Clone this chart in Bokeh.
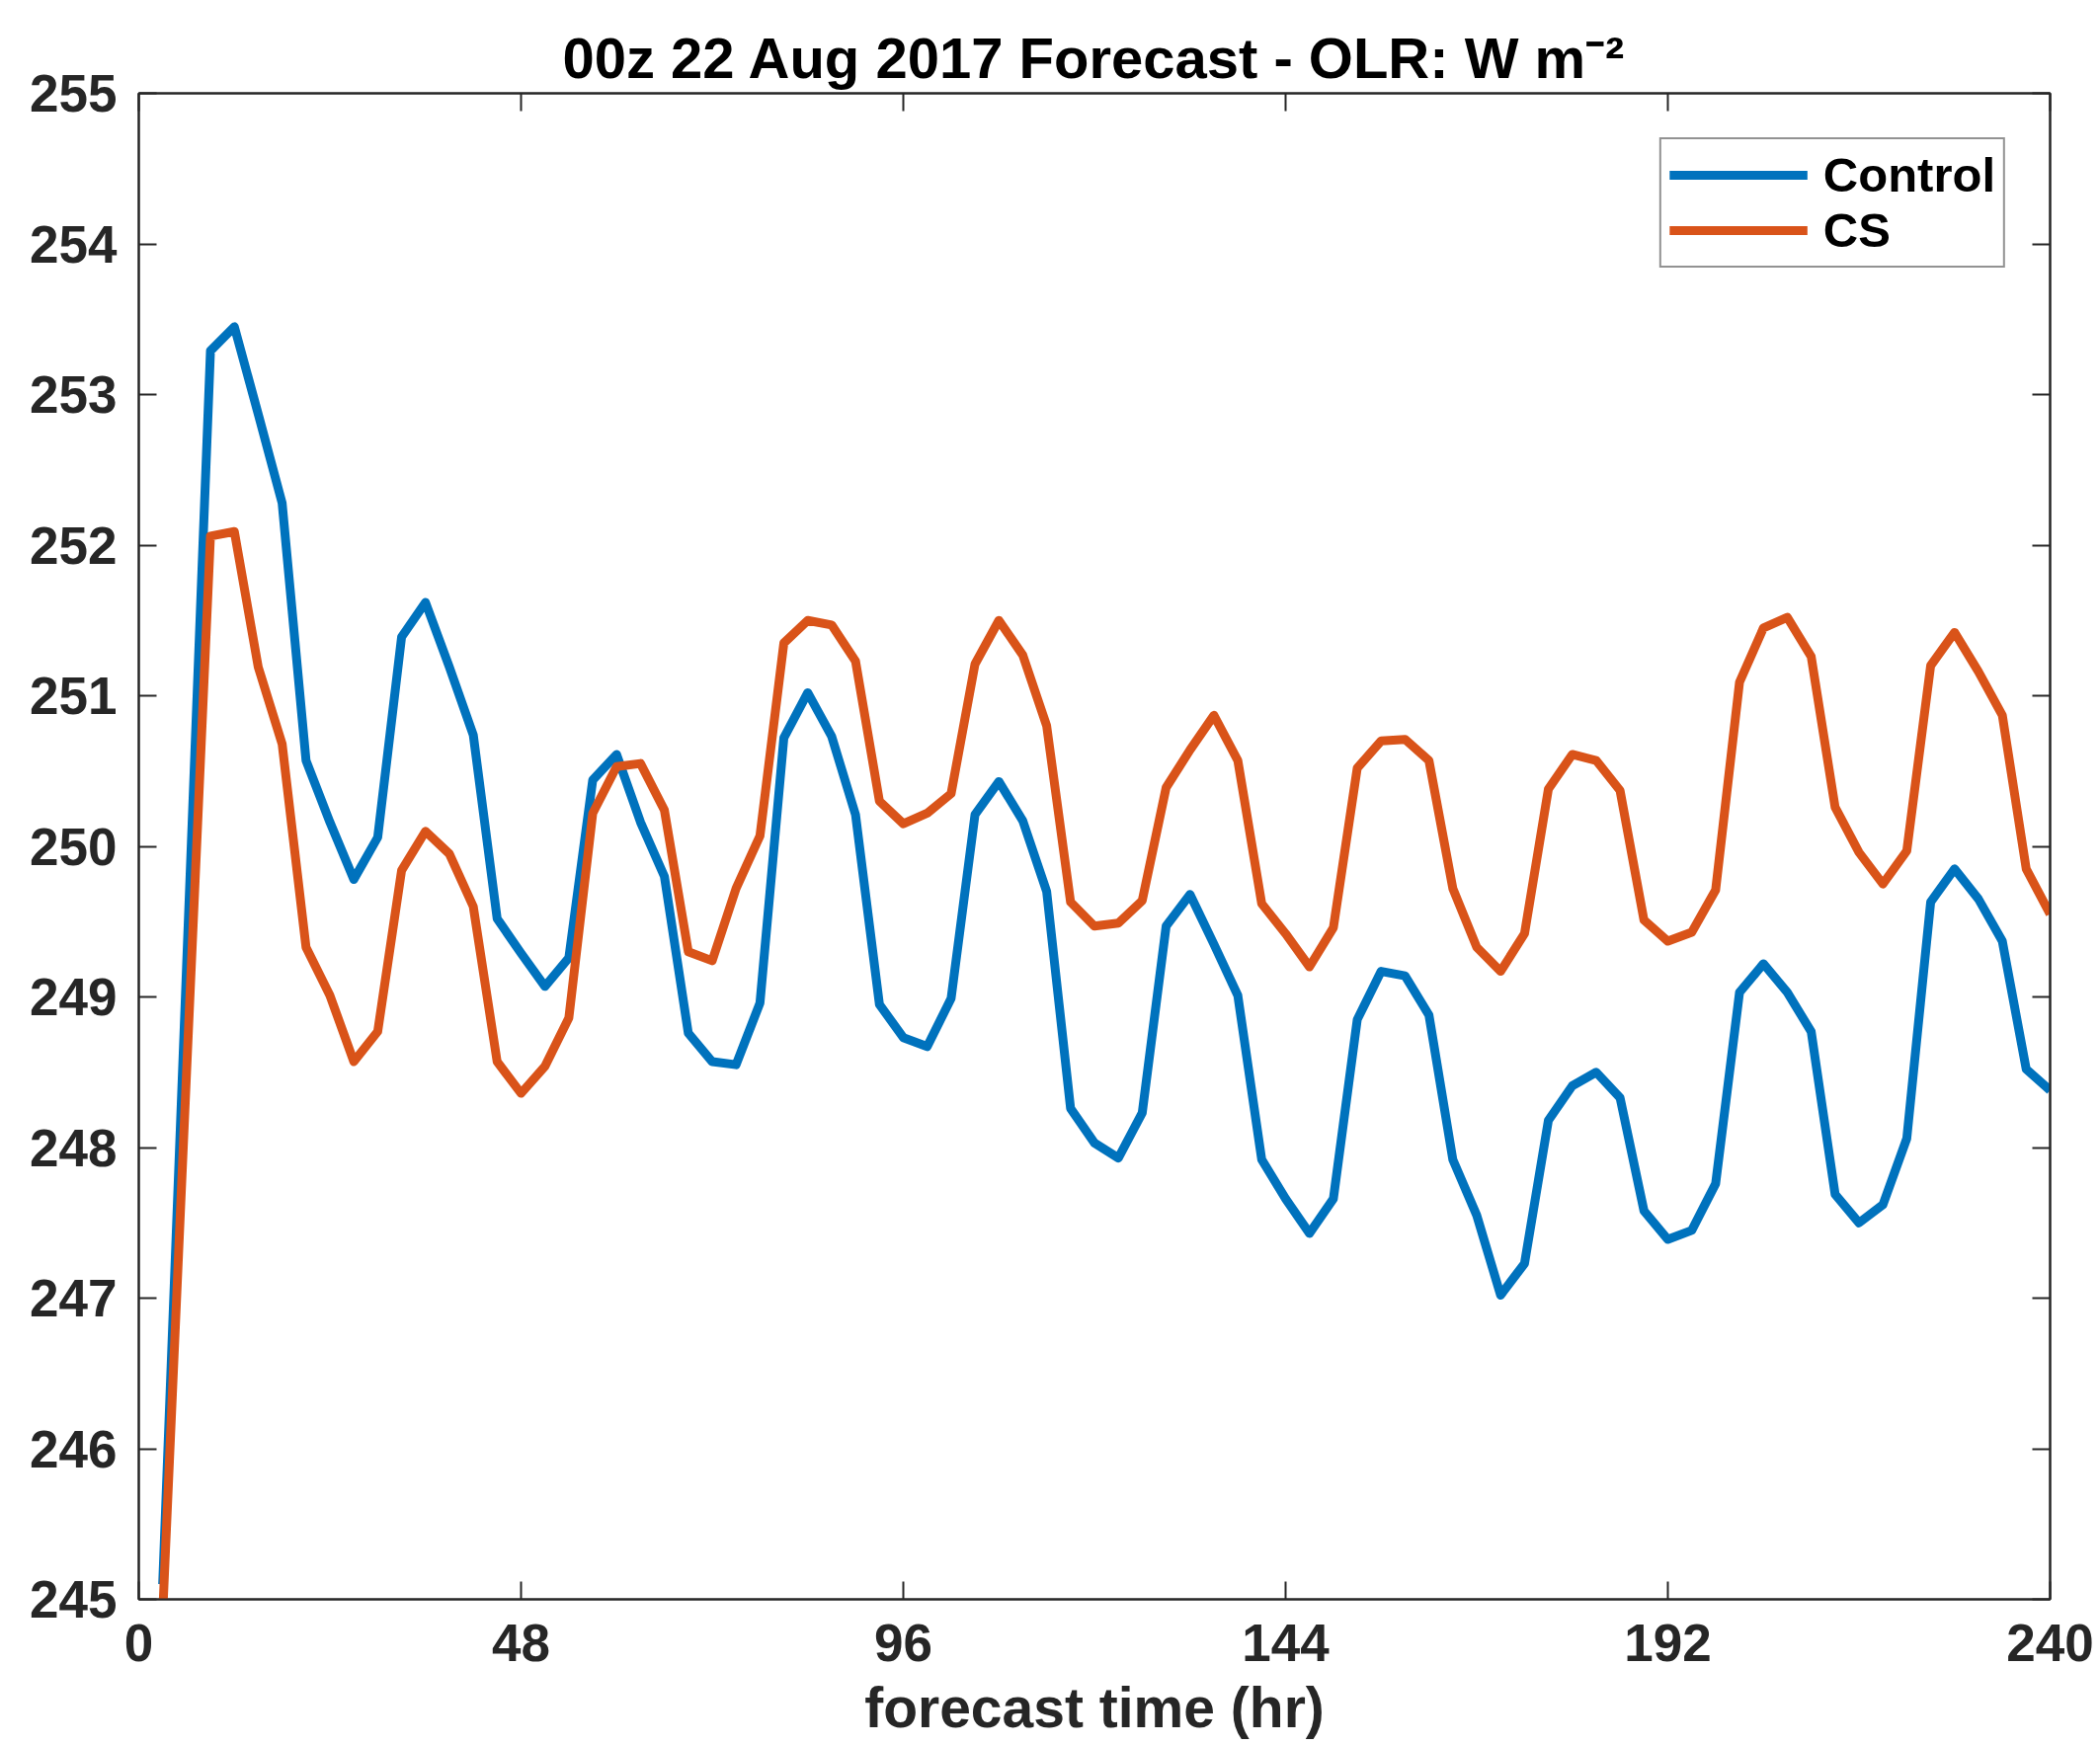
from bokeh.plotting import figure
from bokeh.models import Range1d, FixedTicker, LinearAxis
from bokeh.embed import file_html
from bokeh.resources import INLINE

# ---- data ----
hours = [3, 6, 9, 12, 15, 18, 21, 24, 27, 30, 33, 36, 39, 42, 45, 48, 51, 54, 57, 60,
         63, 66, 69, 72, 75, 78, 81, 84, 87, 90, 93, 96, 99, 102, 105, 108, 111, 114, 117, 120,
         123, 126, 129, 132, 135, 138, 141, 144, 147, 150, 153, 156, 159, 162, 165, 168, 171, 174, 177, 180,
         183, 186, 189, 192, 195, 198, 201, 204, 207, 210, 213, 216, 219, 222, 225, 228, 231, 234, 237, 240]

control = [245.10, 249.20, 253.29, 253.45, 252.87, 252.28, 250.57, 250.16, 249.78, 250.06,
           251.39, 251.62, 251.19, 250.74, 249.52, 249.29, 249.07, 249.26, 250.44, 250.61,
           250.16, 249.80, 248.76, 248.57, 248.55, 248.96, 250.72, 251.02, 250.73, 250.21,
           248.95, 248.73, 248.67, 248.99, 250.21, 250.43, 250.17, 249.70, 248.26, 248.03,
           247.93, 248.23, 249.47, 249.68, 249.35, 249.01, 247.92, 247.66, 247.43, 247.66,
           248.85, 249.17, 249.14, 248.88, 247.92, 247.55, 247.02, 247.23, 248.18, 248.41,
           248.50, 248.33, 247.58, 247.39, 247.45, 247.76, 249.03, 249.22, 249.03, 248.77,
           247.69, 247.50, 247.62, 248.06, 249.63, 249.85, 249.65, 249.37, 248.52, 248.38]

cs = [244.90, 248.50, 252.06, 252.09, 251.19, 250.68, 249.33, 249.01, 248.57, 248.77,
      249.84, 250.10, 249.95, 249.60, 248.57, 248.36, 248.54, 248.86, 250.22, 250.53,
      250.55, 250.24, 249.30, 249.24, 249.72, 250.07, 251.35, 251.50, 251.47, 251.23,
      250.30, 250.15, 250.22, 250.35, 251.21, 251.50, 251.27, 250.80, 249.63, 249.47,
      249.49, 249.64, 250.39, 250.64, 250.87, 250.57, 249.62, 249.42, 249.20, 249.46,
      250.52, 250.70, 250.71, 250.57, 249.72, 249.33, 249.17, 249.42, 250.38, 250.61,
      250.57, 250.37, 249.51, 249.37, 249.43, 249.71, 251.09, 251.45, 251.52, 251.26,
      250.26, 249.96, 249.75, 249.97, 251.20, 251.42, 251.16, 250.87, 249.85, 249.55]

x_ticks = [0, 48, 96, 144, 192, 240]
y_ticks = [245, 246, 247, 248, 249, 250, 251, 252, 253, 254, 255]

title_text = "00z 22 Aug 2017 Forecast - OLR: W m\u207b\u00b2"
x_label = "forecast time (hr)"

FONT = "Liberation Sans"
AX = "#262626"

p = figure(width=2126, height=1767, output_backend="svg", toolbar_location=None,
           x_range=Range1d(0, 240), y_range=Range1d(245, 255),
           min_border_left=140, min_border_right=51, min_border_top=94, min_border_bottom=148,
           x_axis_location=None, y_axis_location=None)
p.grid.visible = False
p.outline_line_color = AX
p.outline_line_width = 2
p.background_fill_color = "white"
p.border_fill_color = "white"

p.title.text = title_text
p.title.align = "center"
p.title.text_font = FONT
p.title.text_font_style = "bold"
p.title.text_font_size = "58px"
p.title.text_color = "black"
p.title.standoff = 8

def style_axis(ax, ticks, show_labels):
    ax.ticker = FixedTicker(ticks=ticks)
    ax.major_tick_in = 18
    ax.major_tick_out = 0
    ax.minor_tick_in = 0
    ax.minor_tick_out = 0
    ax.major_tick_line_color = AX
    ax.major_tick_line_width = 2
    ax.axis_line_color = AX
    ax.axis_line_width = 2
    if show_labels:
        ax.major_label_text_font = FONT
        ax.major_label_text_font_style = "bold"
        ax.major_label_text_font_size = "53px"
        ax.major_label_text_color = AX
    else:
        ax.major_label_overrides = {t: "" for t in ticks}
        ax.major_label_text_font_size = "1px"
        ax.major_label_standoff = 0

xb = LinearAxis()
style_axis(xb, x_ticks, True)
xb.major_label_standoff = 25
xb.axis_label = x_label
xb.axis_label_text_font = FONT
xb.axis_label_text_font_style = "bold"
xb.axis_label_text_font_size = "57px"
xb.axis_label_text_color = AX
xb.axis_label_standoff = 12
p.add_layout(xb, "below")

yl = LinearAxis()
style_axis(yl, y_ticks, True)
yl.major_label_standoff = 22
p.add_layout(yl, "left")

xt = LinearAxis()
style_axis(xt, x_ticks, False)
p.add_layout(xt, "above")

yr = LinearAxis()
style_axis(yr, y_ticks, False)
p.add_layout(yr, "right")

p.line(hours, control, line_color="#0072BD", line_width=9, line_join="round",
       legend_label="Control")
p.line(hours, cs, line_color="#D95319", line_width=9, line_join="round",
       legend_label="CS")

lg = p.legend[0]
lg.location = "top_right"
lg.margin = 45
lg.padding = 8
lg.spacing = 0
lg.glyph_width = 140
lg.glyph_height = 40
lg.label_standoff = 16
lg.label_text_font = FONT
lg.label_text_font_style = "bold"
lg.label_text_font_size = "49px"
lg.label_text_color = "black"
lg.border_line_color = AX
lg.border_line_width = 2
lg.background_fill_color = "white"
lg.background_fill_alpha = 1.0

open("out.html", "w").write(file_html(p, INLINE))
